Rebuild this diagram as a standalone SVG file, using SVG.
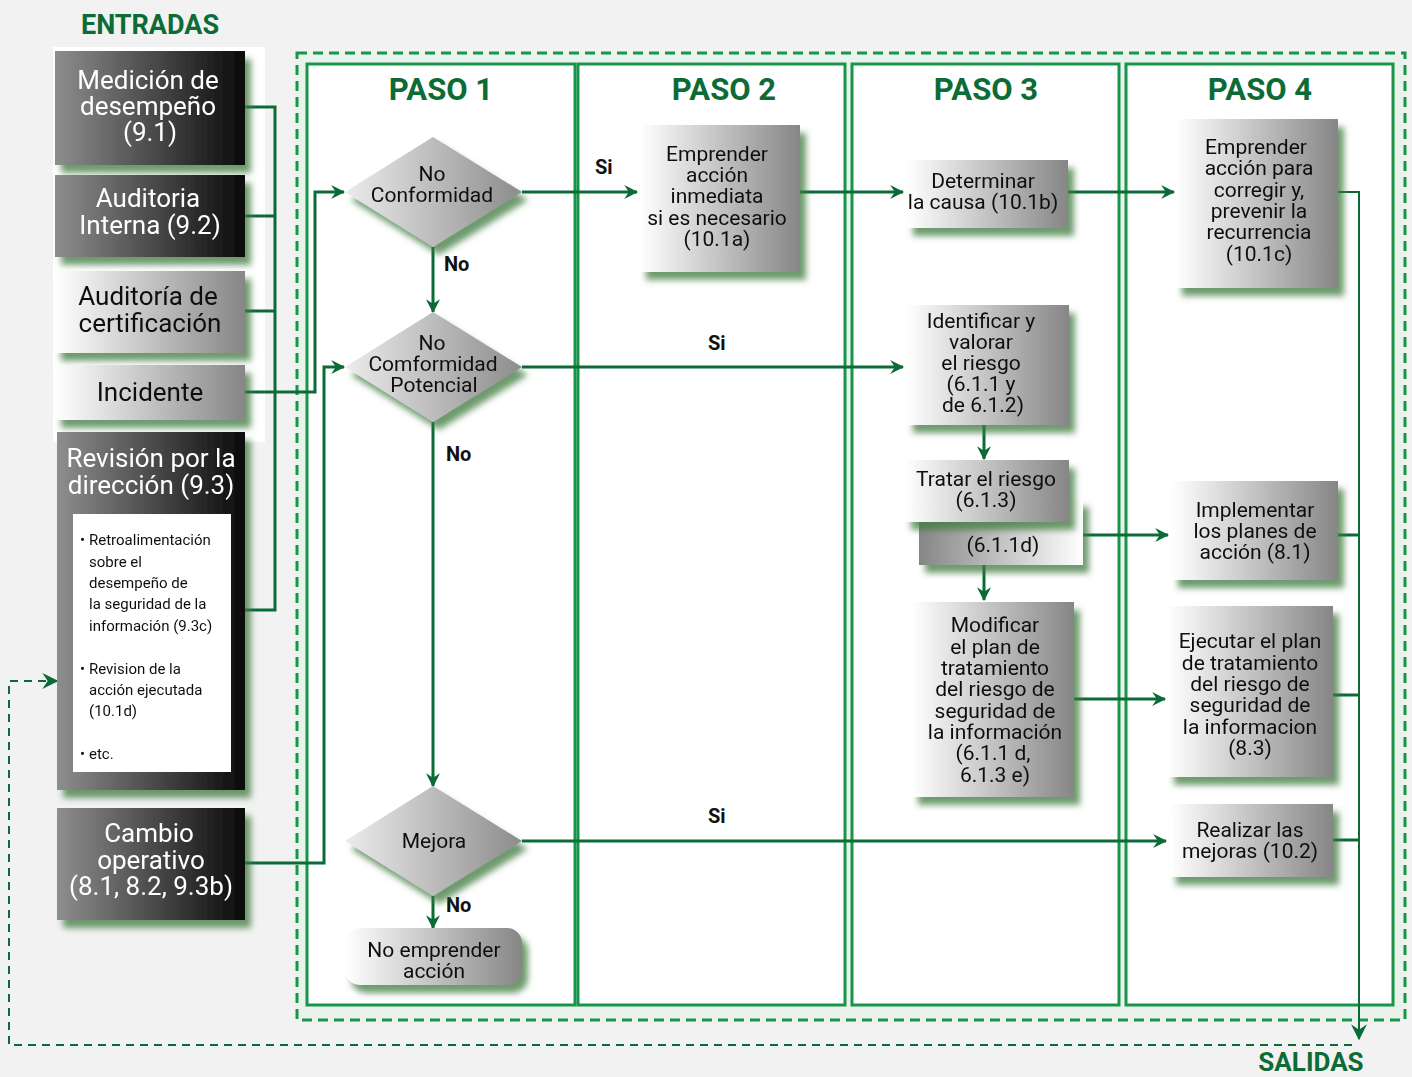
<svg xmlns="http://www.w3.org/2000/svg" width="1412" height="1077" viewBox="0 0 1412 1077">
<defs>
<style>
.t{font-family:Roboto,"Liberation Sans",sans-serif;font-size:21px;fill:#111;text-anchor:middle}
.tw{font-family:Roboto,"Liberation Sans",sans-serif;font-size:26px;fill:#fff;text-anchor:middle}
.tb{font-family:Roboto,"Liberation Sans",sans-serif;font-size:26px;fill:#111;text-anchor:middle}
.sm{font-family:Roboto,"Liberation Sans",sans-serif;font-size:15px;fill:#111}
.lbl{font-family:Roboto,"Liberation Sans",sans-serif;font-size:20px;font-weight:bold;fill:#111}
.hd{font-family:Roboto,"Liberation Sans",sans-serif;font-size:31px;font-weight:bold;fill:#0d6b35;text-anchor:middle}
.col{fill:#fff;stroke:#17964a;stroke-width:3}
.ln{fill:none;stroke:#0b6a36;stroke-width:3}
.ln2{fill:none;stroke:#0b6a36;stroke-width:2}
.light{fill:url(#gLight)}
.dark{fill:url(#gDark)}
</style>
<linearGradient id="gLight" x1="0" y1="0" x2="1" y2="0">
<stop offset="0" stop-color="#ffffff"/><stop offset="1" stop-color="#868686"/>
</linearGradient>
<linearGradient id="gLightR" x1="1" y1="0" x2="0" y2="0">
<stop offset="0" stop-color="#ffffff"/><stop offset="1" stop-color="#868686"/>
</linearGradient>
<linearGradient id="gDark" x1="0" y1="0" x2="1" y2="0">
<stop offset="0" stop-color="#8e8e8e"/><stop offset="1" stop-color="#0a0a0a"/>
</linearGradient>
<linearGradient id="gDia" x1="0" y1="0" x2="1" y2="0">
<stop offset="0" stop-color="#ececec"/><stop offset="1" stop-color="#8c8c8c"/>
</linearGradient>
<filter id="sh" x="-10%" y="-10%" width="130%" height="135%">
<feGaussianBlur in="SourceAlpha" stdDeviation="3"/>
<feOffset dx="6" dy="8" result="b"/>
<feFlood flood-color="#3f7a3f" flood-opacity="0.75"/>
<feComposite in2="b" operator="in"/>
<feMerge><feMergeNode/><feMergeNode in="SourceGraphic"/></feMerge>
</filter>
<marker id="ah" viewBox="0 0 12 12" refX="11" refY="6" markerWidth="14" markerHeight="14" markerUnits="userSpaceOnUse" orient="auto">
<path d="M0,0 L12,6 L0,12 L4,6 z" fill="#0b6a36"/>
</marker>
<marker id="ahd" viewBox="0 0 12 12" refX="11" refY="6" markerWidth="16" markerHeight="16" markerUnits="userSpaceOnUse" orient="auto">
<path d="M0,0 L12,6 L0,12 L4,6 z" fill="#0b6a36"/>
</marker>
</defs>

<rect x="0" y="0" width="1412" height="1077" fill="#f2f2f2"/>
<rect x="53" y="47" width="212" height="395" fill="#ffffff"/>

<text x="150" y="34" class="hd" style="font-size:27px">ENTRADAS</text>
<text x="1311" y="1071" class="hd" style="font-size:26px">SALIDAS</text>

<!-- outer dashed container -->
<rect x="297" y="53" width="1108" height="967" fill="#e9f3eb" stroke="#17964a" stroke-width="3" stroke-dasharray="10,6"/>

<!-- columns -->
<g id="paso1"><rect class="col" x="307" y="64" width="268" height="941"/><text class="hd" x="441" y="100">PASO 1</text></g>
<g id="paso2"><rect class="col" x="578" y="64" width="267" height="941"/><text class="hd" x="724" y="100">PASO 2</text></g>
<g id="paso3"><rect class="col" x="852" y="64" width="267" height="941"/><text class="hd" x="986" y="100">PASO 3</text></g>
<g id="paso4"><rect class="col" x="1126" y="64" width="267" height="941"/><text class="hd" x="1260" y="100">PASO 4</text></g>

<!-- connectors -->
<g id="connectors">
<path class="ln" d="M245,107 H275 V610 H245"/>
<path class="ln" d="M245,216 H275"/>
<path class="ln" d="M245,311 H275"/>
<path class="ln" d="M245,392 H315 V192 H344" marker-end="url(#ah)"/>
<path class="ln" d="M245,863 H324 V367 H344" marker-end="url(#ah)"/>
<path class="ln" d="M433,247 V312" marker-end="url(#ah)"/>
<path class="ln" d="M433,422 V786" marker-end="url(#ah)"/>
<path class="ln" d="M433,896 V928" marker-end="url(#ah)"/>
<path class="ln" d="M522,192 H637" marker-end="url(#ah)"/>
<path class="ln" d="M800,192 H903" marker-end="url(#ah)"/>
<path class="ln" d="M1068,192 H1174" marker-end="url(#ah)"/>
<path class="ln" d="M522,367 H903" marker-end="url(#ah)"/>
<path class="ln" d="M984,425 V459" marker-end="url(#ah)"/>
<path class="ln" d="M984,565 V600" marker-end="url(#ah)"/>
<path class="ln" d="M1083,535 H1168" marker-end="url(#ah)"/>
<path class="ln" d="M1074,699 H1165" marker-end="url(#ah)"/>
<path class="ln" d="M522,841 H1166" marker-end="url(#ah)"/>
<path class="ln2" d="M1338,192 H1359 V1039" marker-end="url(#ahd)"/>
<path class="ln" d="M1338,535 H1359"/>
<path class="ln" d="M1333,695 H1359"/>
<path class="ln" d="M1333,840 H1359"/>
<path class="ln2" d="M1352,1045 H9 V681 H57" stroke-dasharray="8,6" marker-end="url(#ahd)"/>
<text class="lbl" x="595" y="174">Si</text>
<text class="lbl" x="444" y="271">No</text>
<text class="lbl" x="708" y="350">Si</text>
<text class="lbl" x="446" y="461">No</text>
<text class="lbl" x="708" y="823">Si</text>
<text class="lbl" x="446" y="912">No</text>
</g>

<!-- inputs -->
<g id="in-medicion" filter="url(#sh)"><rect class="dark" x="55" y="51" width="190" height="114"/>
<text class="tw" x="148" y="89">Medición de</text><text class="tw" x="148" y="115">desempeño</text><text class="tw" x="150" y="141">(9.1)</text></g>
<g id="in-auditoria" filter="url(#sh)"><rect class="dark" x="55" y="175" width="190" height="82"/>
<text class="tw" x="148" y="207">Auditoria</text><text class="tw" x="150" y="234">Interna (9.2)</text></g>
<g id="in-certificacion" filter="url(#sh)"><rect class="light" x="55" y="271" width="190" height="82"/>
<text class="tb" x="148" y="305">Auditoría de</text><text class="tb" x="150" y="332">certificación</text></g>
<g id="in-incidente" filter="url(#sh)"><rect class="light" x="55" y="365" width="190" height="55"/>
<text class="tb" x="150" y="401">Incidente</text></g>
<g id="in-revision" filter="url(#sh)"><rect class="dark" x="57" y="432" width="188" height="358"/>
<text class="tw" x="151" y="467">Revisión por la</text><text class="tw" x="151" y="494">dirección (9.3)</text>
<rect x="73" y="514" width="158" height="258" fill="#fff"/>
<text class="sm" x="80" y="545">•</text><text class="sm" x="89" y="545">Retroalimentación</text>
<text class="sm" x="89" y="567">sobre el</text>
<text class="sm" x="89" y="588">desempeño de</text>
<text class="sm" x="89" y="609">la seguridad de la</text>
<text class="sm" x="89" y="631">información (9.3c)</text>
<text class="sm" x="80" y="674">•</text><text class="sm" x="89" y="674">Revision de la</text>
<text class="sm" x="89" y="695">acción ejecutada</text>
<text class="sm" x="89" y="716">(10.1d)</text>
<text class="sm" x="80" y="759">•</text><text class="sm" x="89" y="759">etc.</text></g>
<g id="in-cambio" filter="url(#sh)"><rect class="dark" x="57" y="808" width="188" height="112"/>
<text class="tw" x="149" y="842">Cambio</text><text class="tw" x="151" y="869">operativo</text><text class="tw" x="151" y="895">(8.1, 8.2, 9.3b)</text></g>

<!-- paso 1 -->
<g id="d-noconf" filter="url(#sh)"><polygon points="433,137 522,192 433,247 345,192" fill="url(#gDia)"/>
<text class="t" x="432" y="181">No</text><text class="t" x="432" y="202">Conformidad</text></g>
<g id="d-potencial" filter="url(#sh)"><polygon points="433,312 522,367 433,422 345,367" fill="url(#gDia)"/>
<text class="t" x="432" y="350">No</text><text class="t" x="433" y="371">Comformidad</text><text class="t" x="434" y="392">Potencial</text></g>
<g id="d-mejora" filter="url(#sh)"><polygon points="433,786 522,841 433,896 345,841" fill="url(#gDia)"/>
<text class="t" x="434" y="848">Mejora</text></g>
<g id="n-noemprender" filter="url(#sh)"><rect class="light" x="345" y="928" width="177" height="57" rx="15"/>
<text class="t" x="434" y="957">No emprender</text><text class="t" x="434" y="978">acción</text></g>

<!-- paso 2 -->
<g id="n-inmediata" filter="url(#sh)"><rect class="light" x="640" y="125" width="160" height="147"/>
<text class="t" x="717" y="161">Emprender</text><text class="t" x="717" y="182">acción</text><text class="t" x="717" y="203">inmediata</text><text class="t" x="717" y="225">si es necesario</text><text class="t" x="717" y="246">(10.1a)</text></g>

<!-- paso 3 -->
<g id="n-causa" filter="url(#sh)"><rect class="light" x="907" y="160" width="161" height="68"/>
<text class="t" x="983" y="188">Determinar</text><text class="t" x="983" y="209">la causa (10.1b)</text></g>
<g id="n-identificar" filter="url(#sh)"><rect class="light" x="907" y="305" width="162" height="120"/>
<text class="t" x="981" y="328">Identificar y</text><text class="t" x="981" y="349">valorar</text><text class="t" x="981" y="370">el riesgo</text><text class="t" x="981" y="391">(6.1.1 y</text><text class="t" x="983" y="412">de 6.1.2)</text></g>
<g id="n-611d" filter="url(#sh)"><rect x="919" y="499" width="164" height="66" fill="url(#gLightR)"/>
<text class="t" x="1003" y="552">(6.1.1d)</text></g>
<g id="n-tratar" filter="url(#sh)"><rect class="light" x="905" y="460" width="164" height="62"/>
<text class="t" x="986" y="486">Tratar el riesgo</text><text class="t" x="986" y="507">(6.1.3)</text></g>
<g id="n-modificar" filter="url(#sh)"><rect class="light" x="912" y="602" width="162" height="195"/>
<text class="t" x="995" y="632">Modificar</text><text class="t" x="995" y="654">el plan de</text><text class="t" x="995" y="675">tratamiento</text><text class="t" x="995" y="696">del riesgo de</text><text class="t" x="995" y="718">seguridad de</text><text class="t" x="995" y="739">la información</text><text class="t" x="993" y="760">(6.1.1 d,</text><text class="t" x="995" y="782">6.1.3 e)</text></g>

<!-- paso 4 -->
<g id="n-corregir" filter="url(#sh)"><rect class="light" x="1176" y="119" width="162" height="169"/>
<text class="t" x="1256" y="154">Emprender</text><text class="t" x="1259" y="175">acción para</text><text class="t" x="1259" y="197">corregir y,</text><text class="t" x="1259" y="218">prevenir la</text><text class="t" x="1259" y="239">recurrencia</text><text class="t" x="1259" y="261">(10.1c)</text></g>
<g id="n-implementar" filter="url(#sh)"><rect class="light" x="1172" y="481" width="166" height="99"/>
<text class="t" x="1255" y="517">Implementar</text><text class="t" x="1255" y="538">los planes de</text><text class="t" x="1255" y="559">acción (8.1)</text></g>
<g id="n-ejecutar" filter="url(#sh)"><rect class="light" x="1168" y="606" width="165" height="171"/>
<text class="t" x="1250" y="648">Ejecutar el plan</text><text class="t" x="1250" y="670">de tratamiento</text><text class="t" x="1250" y="691">del riesgo de</text><text class="t" x="1250" y="712">seguridad de</text><text class="t" x="1250" y="734">la informacion</text><text class="t" x="1250" y="755">(8.3)</text></g>
<g id="n-mejoras" filter="url(#sh)"><rect class="light" x="1170" y="804" width="163" height="73"/>
<text class="t" x="1250" y="837">Realizar las</text><text class="t" x="1250" y="858">mejoras (10.2)</text></g>
</svg>
